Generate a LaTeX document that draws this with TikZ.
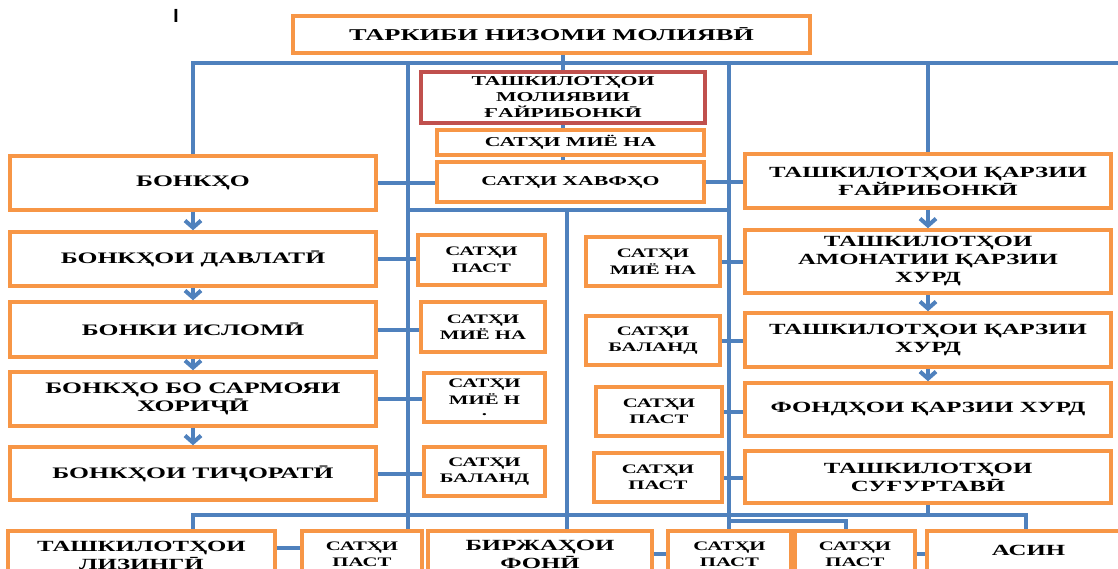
\documentclass[tikz,border=0pt]{standalone}
\usepackage{fontspec}
\setmainfont{Liberation Serif}[FakeStretch=1.6]
\newfontfamily\cursorfont{Liberation Sans}
\usetikzlibrary{arrows.meta}
\definecolor{boxorange}{HTML}{F79646}
\definecolor{linkblue}{HTML}{4F81BD}
\definecolor{boxred}{HTML}{C0504D}
\tikzset{
  box/.style={draw=boxorange, line width=3.5pt, fill=white, align=center, inner sep=2pt,
    font=\fontsize{15.5}{18}\selectfont\bfseries},
  leftbox/.style={box, font=\fontsize{16}{18}\selectfont\bfseries},
  midbox/.style={box, font=\fontsize{13.6}{16}\selectfont\bfseries},
  smallbox/.style={box, font=\fontsize{13}{16.5}\selectfont\bfseries},
  redbox/.style={midbox, draw=boxred},
  bottombox/.style={box, anchor=north, inner ysep=10pt, text depth=45pt},
  bottomsmall/.style={bottombox, inner ysep=11pt, font=\fontsize{13}{16.5}\selectfont\bfseries},
  link/.style={draw=linkblue, line width=4pt},
  flow/.style={link, -{Straight Barb[length=7pt,width=16pt]}}
}
\begin{document}
\begin{tikzpicture}[x=1pt,y=-1pt]
\useasboundingbox (0,0) rectangle (1118,569);
\clip (0,0) rectangle (1118,569);
\fill[white] (0,0) rectangle (1118,569);

\node[font=\cursorfont\bfseries\fontsize{19}{19}\selectfont, inner sep=0pt] (cursor) at (176,16) {I};

% top
\node[box, font=\fontsize{16.5}{18}\selectfont\bfseries, minimum width=517pt, minimum height=37pt] (title) at (551.5,34.5) {ТАРКИБИ НИЗОМИ МОЛИЯВӢ};
\node[redbox, minimum width=284pt, minimum height=51pt, inner ysep=0pt] (red) at (563,97.5) {ТАШКИЛОТҲОИ\\МОЛИЯВИИ\\ҒАЙРИБОНКӢ};
\node[midbox, minimum width=267pt, minimum height=25pt, inner ysep=0pt] (m1) at (570.5,142.5) {САТҲИ МИЁ НА};
\node[midbox, minimum width=267pt, minimum height=40pt] (hav) at (570.5,182) {САТҲИ ХАВФҲО};

% left column
\node[leftbox, minimum width=366pt, minimum height=54pt] (bonkho) at (193,183) {БОНКҲО};
\node[leftbox, minimum width=366pt, minimum height=54pt] (l2) at (193,259) {БОНКҲОИ ДАВЛАТӢ};
\node[leftbox, minimum width=366pt, minimum height=55pt] (l3) at (193,329.5) {БОНКИ ИСЛОМӢ};
\node[leftbox, minimum width=366pt, minimum height=54pt] (l4) at (193,399) {БОНКҲО БО САРМОЯИ\\ХОРИҶӢ};
\node[leftbox, minimum width=366pt, minimum height=53pt] (l5) at (193,473.5) {БОНКҲОИ ТИҶОРАТӢ};

% middle-left small boxes
\node[smallbox, minimum width=127pt, minimum height=50pt] (s1) at (481.5,260) {САТҲИ\\ПАСТ};
\node[smallbox, minimum width=124pt, minimum height=50pt] (s2) at (483,327) {САТҲИ\\МИЁ НА};
\node[smallbox, minimum width=121pt, minimum height=49pt] (s3) at (484.5,397.5) {САТҲИ\\МИЁ Н\\[-5pt]\smash{.}};
\node[smallbox, minimum width=121pt, minimum height=49pt] (s4) at (484.5,471.5) {САТҲИ\\БАЛАНД};

% middle-right small boxes
\node[smallbox, minimum width=134pt, minimum height=49pt] (p1) at (653,261.5) {САТҲИ\\МИЁ НА};
\node[smallbox, minimum width=134pt, minimum height=49pt] (p2) at (653,340.5) {САТҲИ\\БАЛАНД};
\node[smallbox, minimum width=126pt, minimum height=49pt] (p3) at (659,411.5) {САТҲИ\\ПАСТ};
\node[smallbox, minimum width=128pt, minimum height=49pt] (p4) at (658,477.5) {САТҲИ\\ПАСТ};

% right column
\node[box, minimum width=366pt, minimum height=54pt] (r1) at (928,181) {ТАШКИЛОТҲОИ ҚАРЗИИ\\ҒАЙРИБОНКӢ};
\node[box, minimum width=366pt, minimum height=63pt] (r2) at (928,261.5) {ТАШКИЛОТҲОИ\\АМОНАТИИ ҚАРЗИИ\\ХУРД};
\node[box, minimum width=366pt, minimum height=54pt] (r3) at (928,340) {ТАШКИЛОТҲОИ ҚАРЗИИ\\ХУРД};
\node[box, minimum width=366pt, minimum height=53pt] (r4) at (928,409.5) {ФОНДҲОИ ҚАРЗИИ ХУРД};
\node[box, minimum width=366pt, minimum height=52pt] (r5) at (928,477) {ТАШКИЛОТҲОИ\\СУҒУРТАВӢ};

% bottom row
\node[bottombox, minimum width=267pt] (b1) at (141.5,529) {ТАШКИЛОТҲОИ\\ЛИЗИНГӢ};
\node[bottomsmall, minimum width=120pt] (b2) at (362,529) {САТҲИ\\ПАСТ};
\node[bottombox, inner ysep=9pt, minimum width=224pt] (b3) at (540,529) {БИРЖАҲОИ\\ФОНӢ};
\node[bottomsmall, minimum width=123pt] (b4) at (729.5,529) {САТҲИ\\ПАСТ};
\node[bottomsmall, minimum width=120pt] (b5) at (855,529) {САТҲИ\\ПАСТ};
\node[bottombox, inner ysep=14pt, minimum width=203pt] (b6) at (1028.5,529) {АСИН};

% bus coordinates
\coordinate (busR) at (1120,63);
\coordinate (vL) at (408,63);
\coordinate (vR) at (729,63);
\coordinate (midL) at (408,210);
\coordinate (midR) at (729,210);
\coordinate (midM) at (567,210);
\coordinate (botL) at (193,515);
\coordinate (botR) at (1026,515);
\coordinate (br) at (846,521);

% connectors
\draw[link] (bonkho.north) |- (busR);
\draw[link] (title.south -| red.north) -- (red.north);
\draw[link] (vL) -- (vL |- b2.north);
\draw[link] (vR) -- (vR |- b4.north);
\draw[link] (r1.north) -- (r1.north |- busR);
\draw[link] (red.south) -- (red.south |- m1.north);
\draw[link] (red.south |- m1.south) -- (red.south |- hav.north);
\draw[link] (bonkho.east) -- (bonkho.east -| hav.west);
\draw[link] (hav.east) -- (hav.east -| r1.west);
\draw[link] (midL) -- (midR);
\draw[link] (midM) -- (midM |- b3.north);
\draw[link] (botL |- b1.north) -- (botL) -- (botR) -- (botR |- b6.north);
\draw[link] (r5.south) -- (r5.south |- botL);
\draw[link] (vR |- br) -- (br) -- (br |- b5.north);

\draw[link] (l2.east) -- (l2.east -| s1.west);
\draw[link] (l3.east) -- (l3.east -| s2.west);
\draw[link] (l4.east) -- (l4.east -| s3.west);
\draw[link] (l5.east) -- (l5.east -| s4.west);
\draw[link] (p1.east) -- (p1.east -| r2.west);
\draw[link] (p2.east) -- (p2.east -| r3.west);
\draw[link] (p3.east) -- (p3.east -| r4.west);
\draw[link] (p4.east) -- (p4.east -| r5.west);

\draw[link] ([yshift=-19pt]b1.north east) -- ([yshift=-19pt]b2.north west);
\draw[link] ([yshift=-25pt]b3.north east) -- ([yshift=-25pt]b4.north west);
\draw[link] ([yshift=-25pt]b5.north east) -- ([yshift=-25pt]b6.north west);

% arrows
\draw[flow] (bonkho.south) -- (l2.north);
\draw[flow] (l2.south) -- (l3.north);
\draw[flow] (l3.south) -- (l4.north);
\draw[flow] (l4.south) -- (l5.north);
\draw[flow] (r1.south) -- (r2.north);
\draw[flow] (r2.south) -- (r3.north);
\draw[flow] (r3.south) -- (r4.north);
\end{tikzpicture}
\end{document}
